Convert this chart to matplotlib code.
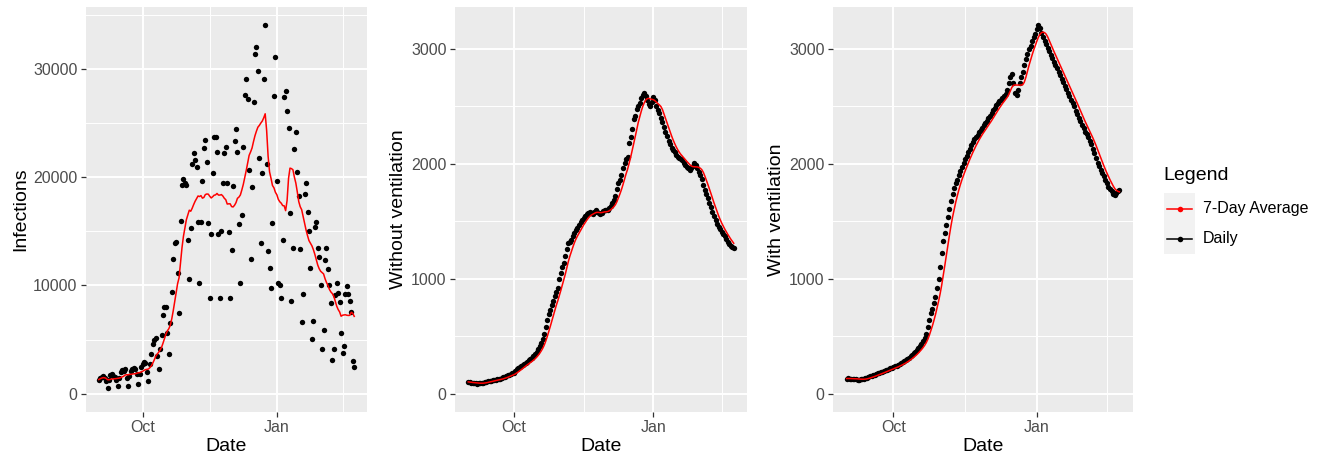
import numpy as np
import pandas as pd
import matplotlib
matplotlib.use("Agg")
import matplotlib.pyplot as plt
import matplotlib.dates as mdates
from matplotlib.ticker import FixedLocator, FuncFormatter
from matplotlib.lines import Line2D
from matplotlib.patches import Rectangle

plt.rcParams['font.family'] = ['Liberation Sans', 'DejaVu Sans']

# Tageswerte ab 1. September 2020
datum = pd.date_range('2020-09-01', periods=176, freq='D')

infektionen = [
    1300, 1450, 1550, 1600, 1400, 1150, 560,
    1250, 1700, 1800, 1650, 1500, 1250, 740,
    1400, 2000, 2200, 2100, 2300, 1480, 680,
    1650, 2100, 2300, 2350, 2250, 1850, 930,
    1800, 2500, 2750, 2900, 2800, 2000, 1140,
    2700, 3650, 4550, 4950, 5100, 3500, 2250,
    4170, 5400, 7260, 7970, 7970, 5600, 3650,
    6490, 9420, 12450, 13970, 14060, 11120, 7480,
    15975, 19310, 19870, 19500, 19300, 14200, 10570,
    15300, 21260, 22250, 21630, 21000, 15910, 10200,
    15910, 19620, 22710, 23480, 21380, 15820, 8870,
    14770, 20390, 23700, 23700, 22310, 14770, 8870,
    15080, 19470, 22250, 22770, 19500, 14920, 8870,
    13290, 19220, 23330, 24470, 22310, 15700, 10260,
    16530, 22800, 27650, 29110, 27250, 20640, 12450,
    19100, 26950, 31430, 32070, 29820, 21790, 13970,
    20390, 29050, 34050, 21230, 13230, 11590, 9800,
    15760, 27560, 31150, 19620, 10260, 10040, 8870,
    14210, 27410, 28030, 26170, 24570, 16690, 8560,
    13500, 22620, 24160, 20460, 18290, 13380, 6640,
    9180, 18480, 19470, 16840, 15050, 11650, 5010,
    6740, 15450, 15900, 13440, 12610, 10040, 4170,
    5870, 12360, 13440, 11530, 10040, 8400, 3090,
    4170, 9120, 10260, 9330, 8500, 5620, 3710,
    4390, 9210, 9950, 9210, 8590, 7570, 3000,
    2470,
]

ohne_beatmung = [
    102, 98, 95, 92, 90, 88, 87,
    89, 91, 93, 96, 100, 104, 108,
    110, 112, 115, 118, 121, 124, 126,
    130, 136, 142, 147, 152, 158, 164,
    170, 176, 182, 196, 212, 224, 232,
    242, 252, 260, 268, 278, 290, 300,
    312, 326, 342, 362, 388, 414, 440,
    472, 520, 580, 640, 690, 730, 770,
    810, 850, 880, 920, 1000, 1050, 1100,
    1140, 1200, 1260, 1310, 1320, 1340, 1370,
    1400, 1420, 1445, 1470, 1490, 1510, 1530,
    1545, 1560, 1575, 1580, 1570, 1565, 1580,
    1595, 1580, 1570, 1565, 1575, 1590, 1600,
    1595, 1600, 1615, 1635, 1660, 1685, 1720,
    1780, 1830, 1860, 1900, 1960, 2010, 2040,
    2060, 2180, 2230, 2300, 2390, 2420, 2480,
    2500, 2530, 2570, 2600, 2620, 2590, 2560,
    2520, 2500, 2540, 2580, 2560, 2500, 2470,
    2440, 2400, 2360, 2320, 2280, 2240, 2200,
    2170, 2140, 2120, 2100, 2080, 2060, 2050,
    2040, 2030, 2010, 1990, 1975, 1960, 1950,
    1960, 1985, 2005, 1990, 1960, 1930, 1900,
    1870, 1820, 1775, 1740, 1700, 1660, 1620,
    1580, 1545, 1510, 1480, 1450, 1430, 1410,
    1390, 1370, 1345, 1320, 1300, 1285, 1275,
    1265,
]

mit_beatmung = [
    131, 132, 130, 129, 131, 128, 125,
    122, 121, 123, 126, 130, 134, 140,
    145, 149, 153, 158, 164, 170, 176,
    182, 187, 192, 197, 202, 208, 214,
    220, 226, 232, 238, 244, 250, 258,
    266, 274, 283, 292, 302, 314, 326,
    338, 350, 364, 378, 396, 416, 436,
    458, 482, 520, 580, 640, 700, 740,
    790, 840, 920, 1000, 1100, 1220, 1330,
    1400, 1470, 1540, 1610, 1680, 1740, 1790,
    1830, 1860, 1900, 1940, 1975, 2010, 2040,
    2070, 2100, 2130, 2160, 2190, 2215, 2235,
    2255, 2275, 2295, 2315, 2335, 2355, 2375,
    2395, 2415, 2440, 2465, 2490, 2510, 2530,
    2545, 2560, 2575, 2590, 2610, 2640, 2700,
    2760, 2780, 2700, 2620, 2600, 2640, 2700,
    2760, 2800, 2860, 2910, 2960, 3000, 3030,
    3070, 3100, 3130, 3170, 3205, 3180, 3140,
    3100, 3070, 3040, 3005, 2980, 2950, 2920,
    2890, 2860, 2830, 2800, 2770, 2740, 2710,
    2680, 2650, 2620, 2590, 2560, 2530, 2500,
    2460, 2430, 2400, 2370, 2340, 2310, 2280,
    2260, 2230, 2200, 2170, 2130, 2090, 2050,
    2010, 1980, 1950, 1920, 1890, 1860, 1830,
    1800, 1780, 1760, 1740, 1730, 1750, 1765,
    1770,
]

x_haupt = [pd.Timestamp('2020-10-01'), pd.Timestamp('2021-01-01')]
x_haupt_labels = ['Oct', 'Jan']
x_neben = [pd.Timestamp('2020-11-16'), pd.Timestamp('2021-02-15')]

W, H = 1321, 462
GRAU = '#EBEBEB'


def gestalte_achse(ax, y_major, y_minor, ymax, ylabel):
    ax.set_facecolor(GRAU)
    for s in ax.spines.values():
        s.set_visible(False)
    # x-Achse
    span = datum[-1] - datum[0]
    ax.set_xlim(datum[0] - span * 0.05, datum[-1] + span * 0.05)
    ax.xaxis.set_major_locator(FixedLocator(mdates.date2num(x_haupt)))
    ax.xaxis.set_minor_locator(FixedLocator(mdates.date2num(x_neben)))
    ax.set_xticklabels(x_haupt_labels)
    # y-Achse
    ax.set_ylim(-0.05 * ymax, 1.05 * ymax)
    ax.yaxis.set_major_locator(FixedLocator(y_major))
    ax.yaxis.set_minor_locator(FixedLocator(y_minor))
    ax.yaxis.set_major_formatter(FuncFormatter(lambda v, p: f"{int(v)}"))
    ax.grid(which='major', color='white', linewidth=1.4)
    ax.grid(which='minor', color='white', linewidth=0.7)
    ax.set_axisbelow(True)
    ax.tick_params(which='major', length=3.6, width=0.9, color='#333333',
                   labelsize=11.5, labelcolor='#4D4D4D', pad=2.5)
    ax.tick_params(which='minor', length=0)
    ax.set_xlabel('Date', fontsize=14, labelpad=2)
    ax.set_ylabel(ylabel, fontsize=14, labelpad=3)


def zeichne(ax, werte):
    werte = pd.Series(werte, index=datum)
    mittel = werte.rolling(7, min_periods=1).mean()
    ax.scatter(datum, werte, s=15, color='black', zorder=3, linewidths=0)
    ax.plot(datum, mittel, color='red', linewidth=1.1, zorder=4)


def main():
    fig = plt.figure(figsize=(W / 100, H / 100), dpi=100)
    unten = (H - 412) / H
    hoehe = 405 / H
    ax1 = fig.add_axes([86 / W, unten, 281 / W, hoehe])
    ax2 = fig.add_axes([455 / W, unten, 292 / W, hoehe])
    ax3 = fig.add_axes([833 / W, unten, 300 / W, hoehe])

    zeichne(ax1, infektionen)
    gestalte_achse(ax1, [0, 10000, 20000, 30000], [5000, 15000, 25000, 35000],
                   max(infektionen), 'Infections')

    vmax = max(max(ohne_beatmung), max(mit_beatmung))
    zeichne(ax2, ohne_beatmung)
    gestalte_achse(ax2, [0, 1000, 2000, 3000], [500, 1500, 2500], vmax, 'Without ventilation')
    zeichne(ax3, mit_beatmung)
    gestalte_achse(ax3, [0, 1000, 2000, 3000], [500, 1500, 2500], vmax, 'With ventilation')

    # Legende, in Pixelkoordinaten
    lg = fig.add_axes([0, 0, 1, 1], facecolor='none')
    lg.set_xlim(0, W)
    lg.set_ylim(H, 0)
    lg.axis('off')
    lg.text(1163, 176, 'Legend', fontsize=14, va='center', ha='left')
    lg.add_patch(Rectangle((1164, 193), 31, 61, facecolor='#F2F2F2', edgecolor='none'))
    for i, (farbe, name) in enumerate([('red', '7-Day Average'), ('black', 'Daily')]):
        yy = 208.5 + i * 30.5
        lg.add_line(Line2D([1167, 1192], [yy, yy], color=farbe, linewidth=1.1))
        lg.plot([1179.5], [yy], marker='o', markersize=4, color=farbe, markeredgewidth=0)
        lg.text(1203, yy, name, fontsize=11.5, va='center', ha='left')

    fig.savefig('out.png', dpi=100)


if __name__ == "__main__":
    main()
